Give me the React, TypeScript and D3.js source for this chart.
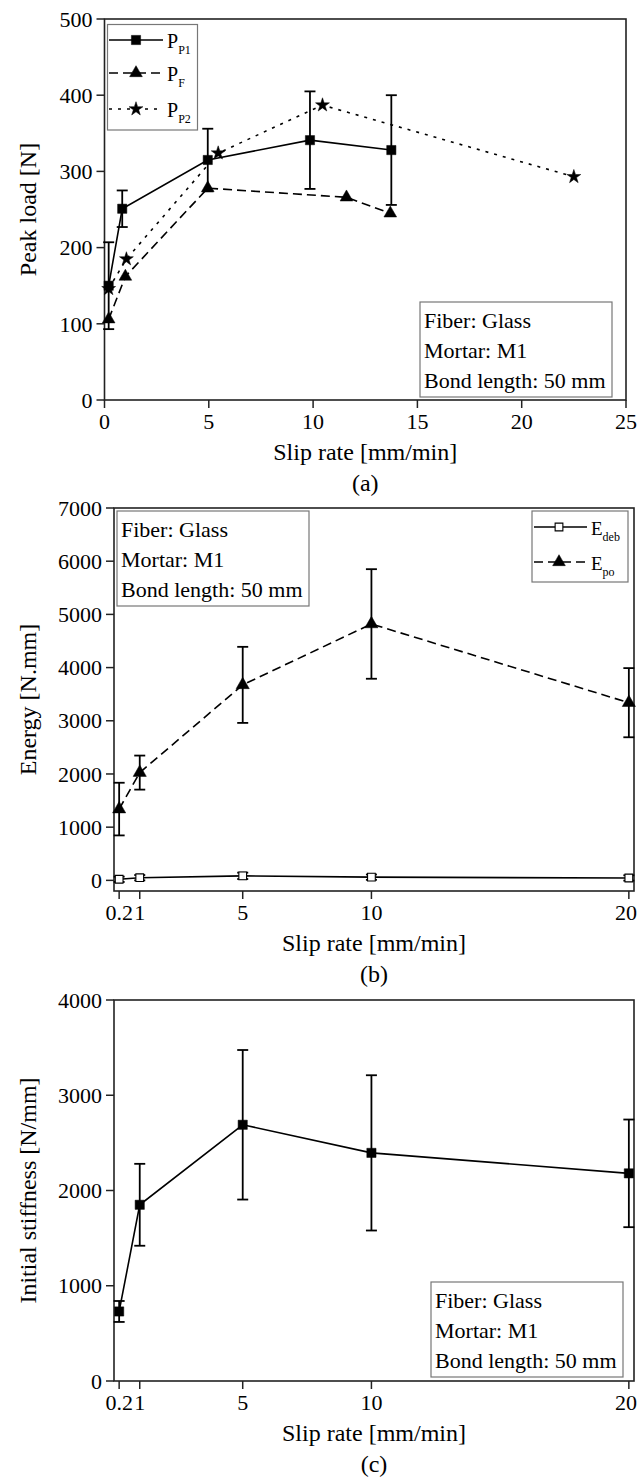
import React from 'react';
import * as d3 from 'd3';

// ---------- data (a) Peak load ----------
const slipP1 = [0.2, 0.85, 4.95, 9.85, 13.75];
const loadP1 = [150, 251, 315, 341, 328];
const errP1 = [57, 24, 41, 64, 72];
const slipPF = [0.2, 1.0, 4.95, 11.6, 13.7];
const loadPF = [106, 162, 278, 266, 245];
const slipP2 = [0.2, 1.05, 5.45, 10.45, 22.5];
const loadP2 = [146, 185, 324, 387, 293];

// ---------- data (b) Energy, (c) stiffness ----------
const slipRates = [0.2, 1, 5, 10, 20];
const energyDeb = [20, 50, 85, 60, 45];
const errDeb = [50, 50, 60, 50, 50];
const energyPo = [1340, 2026, 3675, 4820, 3340];
const errPo = [495, 320, 715, 1030, 650];
const stiffness = [730, 1850, 2690, 2395, 2180];
const errStiff = [110, 430, 785, 815, 565];

// ---------- ticks / text ----------
const ticksAx = [0, 5, 10, 15, 20, 25];
const ticksAy = [0, 100, 200, 300, 400, 500];
const ticksBCx = [0.2, 1, 5, 10, 20];
const ticksBy = [0, 1000, 2000, 3000, 4000, 5000, 6000, 7000];
const ticksCy = [0, 1000, 2000, 3000, 4000];
const infoLines = ['Fiber: Glass', 'Mortar: M1', 'Bond length: 50 mm'];
const xLabel = 'Slip rate [mm/min]';

const FONT = '"Liberation Serif", "Times New Roman", serif';
const PAGE_W = 638;

type Series = {
  xs: number[];
  ys: number[];
  err?: number[];
  dash?: string;
  symbol: d3.SymbolType;
  size: number;
  open?: boolean;
};

type LegendItem = { main: string; sub: string; dash?: string; symbol: d3.SymbolType; size: number; open?: boolean };

type PanelProps = {
  left: number; right: number; top: number; bottom: number;
  xDomain: [number, number]; yDomain: [number, number];
  xTicks: number[]; yTicks: number[];
  yLabel: string; caption: string;
  series: Series[];
  info: { x: number; y: number };
  legend?: { x: number; y: number; w: number; h: number; rows: number[]; lineX: [number, number]; markX: number; textX: number; fs: number; items: LegendItem[] };
};

const Marker = ({ x, y, symbol, size, open }: { x: number; y: number; symbol: d3.SymbolType; size: number; open?: boolean }) => (
  <path
    d={d3.symbol().type(symbol).size(size)() || ''}
    transform={`translate(${x},${y})`}
    fill={open ? '#fff' : '#000'}
    stroke="#000"
    strokeWidth={open ? 1.1 : 0.5}
  />
);

const Panel = (p: PanelProps) => {
  const x = d3.scaleLinear().domain(p.xDomain).range([p.left, p.right]);
  const y = d3.scaleLinear().domain(p.yDomain).range([p.bottom, p.top]);
  const cx = (p.left + p.right) / 2;
  const cy = (p.top + p.bottom) / 2;
  const line = d3.line<[number, number]>().x((d) => x(d[0])).y((d) => y(d[1]));
  return (
    <g>
      {/* frame */}
      <rect x={p.left} y={p.top} width={p.right - p.left} height={p.bottom - p.top} fill="none" stroke="#222" strokeWidth={1.6} />
      {/* x ticks */}
      {p.xTicks.map((t) => {
        const tx = x(t);
        const nearEdge = tx + 12 > PAGE_W - 1;
        return (
          <g key={'xt' + t}>
            <line x1={tx} x2={tx} y1={p.bottom} y2={p.bottom + 8} stroke="#222" strokeWidth={1.5} />
            <text x={nearEdge ? PAGE_W - 1 : tx} y={p.bottom + 29} textAnchor={nearEdge ? 'end' : 'middle'} fontSize={22} fontFamily={FONT}>{t}</text>
          </g>
        );
      })}
      {/* y ticks */}
      {p.yTicks.map((t) => (
        <g key={'yt' + t}>
          <line x1={p.left - 8} x2={p.left} y1={y(t)} y2={y(t)} stroke="#222" strokeWidth={1.5} />
          <text x={p.left - 12} y={y(t)} dy="0.35em" textAnchor="end" fontSize={22} fontFamily={FONT}>{t}</text>
        </g>
      ))}
      {/* axis labels */}
      <text x={cx} y={p.bottom + 60} textAnchor="middle" fontSize={24} fontFamily={FONT}>{xLabel}</text>
      <text x={cx} y={p.bottom + 91} textAnchor="middle" fontSize={24} fontFamily={FONT}>{p.caption}</text>
      <text transform={`translate(36,${cy}) rotate(-90)`} textAnchor="middle" fontSize={24} fontFamily={FONT}>{p.yLabel}</text>
      {/* series lines */}
      {p.series.map((s, i) => (
        <path key={'l' + i} d={line(s.xs.map((v, k) => [v, s.ys[k]] as [number, number])) || ''} fill="none" stroke="#000" strokeWidth={1.6} strokeDasharray={s.dash} />
      ))}
      {/* error bars */}
      {p.series.map((s, i) =>
        s.err ? s.err.map((e, k) => {
          const xx = x(s.xs[k]);
          const y1 = y(s.ys[k] + e);
          const y2 = y(s.ys[k] - e);
          return (
            <g key={'e' + i + '-' + k} stroke="#000" strokeWidth={1.8}>
              <line x1={xx} x2={xx} y1={y1} y2={y2} />
              <line x1={xx - 5.5} x2={xx + 5.5} y1={y1} y2={y1} />
              <line x1={xx - 5.5} x2={xx + 5.5} y1={y2} y2={y2} />
            </g>
          );
        }) : null
      )}
      {/* markers */}
      {p.series.map((s, i) =>
        s.xs.map((v, k) => <Marker key={'m' + i + '-' + k} x={x(v)} y={y(s.ys[k])} symbol={s.symbol} size={s.size} open={s.open} />)
      )}
      {/* info box */}
      <rect x={p.info.x} y={p.info.y} width={192} height={95} fill="#fff" stroke="#777" strokeWidth={1.2} />
      {infoLines.map((t, i) => (
        <text key={'i' + i} x={p.info.x + 4} y={p.info.y + 26 + i * 30} fontSize={22} fontFamily={FONT}>{t}</text>
      ))}
      {/* legend */}
      {p.legend && (
        <g>
          <rect x={p.legend.x} y={p.legend.y} width={p.legend.w} height={p.legend.h} fill="#fff" stroke="#777" strokeWidth={1.2} />
          {p.legend.items.map((it, i) => {
            const ry = p.legend!.rows[i];
            return (
              <g key={'lg' + i}>
                <line x1={p.legend!.lineX[0]} x2={p.legend!.lineX[1]} y1={ry} y2={ry} stroke="#000" strokeWidth={1.6} strokeDasharray={it.dash} />
                <Marker x={p.legend!.markX} y={ry} symbol={it.symbol} size={it.size} open={it.open} />
                <text x={p.legend!.textX} y={ry + 8} fontSize={p.legend!.fs} fontFamily={FONT}>
                  {it.main}
                  <tspan fontSize={12} dy={6}>{it.sub}</tspan>
                </text>
              </g>
            );
          })}
        </g>
      )}
    </g>
  );
};

export default function App() {
  const dashF = '9,5';
  const dotP2 = '3,6';
  return (
    <svg width={638} height={1481} style={{ position: 'absolute', left: 0, top: 0, background: '#fff' }}>
      <rect x={0} y={0} width={638} height={1481} fill="#fff" />
      <Panel
        left={104.5} right={626} top={19} bottom={400}
        xDomain={[0, 25]} yDomain={[0, 500]}
        xTicks={ticksAx} yTicks={ticksAy}
        yLabel="Peak load [N]" caption="(a)"
        series={[
          { xs: slipP2, ys: loadP2, dash: dotP2, symbol: d3.symbolStar, size: 60 },
          { xs: slipPF, ys: loadPF, dash: dashF, symbol: d3.symbolTriangle, size: 70 },
          { xs: slipP1, ys: loadP1, err: errP1, symbol: d3.symbolSquare, size: 85 },
        ]}
        info={{ x: 420, y: 302 }}
        legend={{
          x: 107.5, y: 24.5, w: 90, h: 105.5, rows: [40, 73, 109], lineX: [109, 163], markX: 136, textX: 167, fs: 20,
          items: [
            { main: 'P', sub: 'P1', symbol: d3.symbolSquare, size: 85 },
            { main: 'P', sub: 'F', dash: dashF, symbol: d3.symbolTriangle, size: 70 },
            { main: 'P', sub: 'P2', dash: dotP2, symbol: d3.symbolStar, size: 60 },
          ],
        }}
      />
      <Panel
        left={114} right={634} top={508} bottom={891}
        xDomain={[0, 20.2]} yDomain={[-200, 7000]}
        xTicks={ticksBCx} yTicks={ticksBy}
        yLabel="Energy [N.mm]" caption="(b)"
        series={[
          { xs: slipRates, ys: energyPo, err: errPo, dash: dashF, symbol: d3.symbolTriangle, size: 75 },
          { xs: slipRates, ys: energyDeb, err: errDeb, symbol: d3.symbolSquare, size: 60, open: true },
        ]}
        info={{ x: 117, y: 511 }}
        legend={{
          x: 532, y: 511, w: 96, h: 71, rows: [527, 562], lineX: [534, 587], markX: 559, textX: 591, fs: 19,
          items: [
            { main: 'E', sub: 'deb', symbol: d3.symbolSquare, size: 60, open: true },
            { main: 'E', sub: 'po', dash: dashF, symbol: d3.symbolTriangle, size: 70 },
          ],
        }}
      />
      <Panel
        left={114} right={634} top={1000} bottom={1381}
        xDomain={[0, 20.2]} yDomain={[0, 4000]}
        xTicks={ticksBCx} yTicks={ticksCy}
        yLabel="Initial stiffness [N/mm]" caption="(c)"
        series={[
          { xs: slipRates, ys: stiffness, err: errStiff, symbol: d3.symbolSquare, size: 85 },
        ]}
        info={{ x: 431, y: 1282 }}
      />
    </svg>
  );
}
